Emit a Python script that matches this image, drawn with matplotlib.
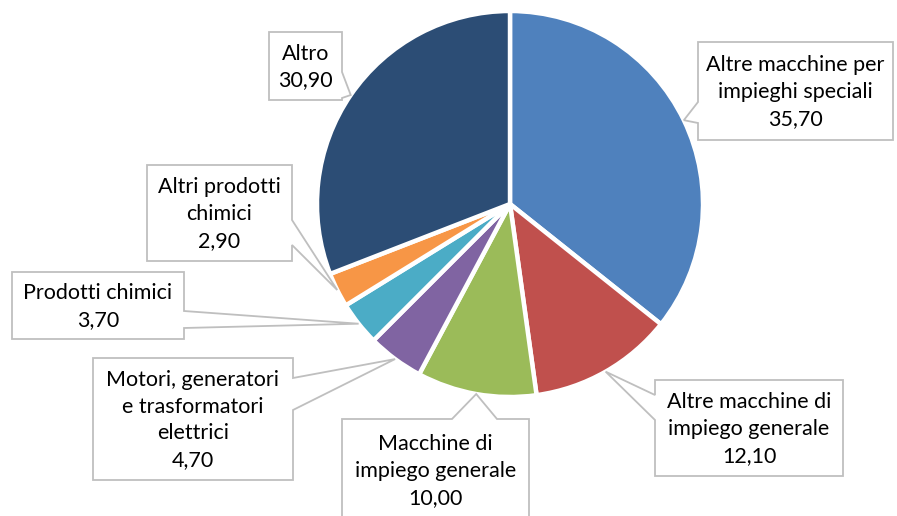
import matplotlib
matplotlib.use("Agg")
import matplotlib.pyplot as plt
from matplotlib.patches import Polygon
import numpy as np

# ---- data ----
categories = ["Altre macchine per\nimpieghi speciali",
              "Altre macchine di\nimpiego generale",
              "Macchine di\nimpiego generale",
              "Motori, generatori\ne trasformatori\nelettrici",
              "Prodotti chimici",
              "Altri prodotti\nchimici",
              "Altro"]
values = [35.70, 12.10, 10.00, 4.70, 3.70, 2.90, 30.90]
value_labels = ["35,70", "12,10", "10,00", "4,70", "3,70", "2,90", "30,90"]
colors = ["#4F81BD", "#C0504D", "#9BBB59", "#8064A2", "#4BACC6", "#F79646", "#2C4D75"]

# ---- layout (pixel coordinates, y downward) ----
W, H = 897, 516
cx, cy, R = 510, 204, 193
# box: (left, top, right, bottom), tail side, tail base (a1, a2), text center
boxes = [
    ((698, 42, 893, 140), "left", (102, 123), (795.5, 92)),
    ((655, 380, 843, 476), "left", (395, 420), (749, 429)),
    ((342, 419, 529, 530), "top", (452, 497), (435.5, 471)),
    ((93, 358, 293, 480), "right", (378, 410), (193, 420)),
    ((12, 272, 184, 339), "right", (311, 328), (98, 306.5)),
    ((147, 165, 292, 261), "right", (220, 245), (219.5, 214)),
    ((269, 32, 342, 100), "right", (72, 98), (305.5, 67)),
]

fig = plt.figure(figsize=(W / 100, H / 100), dpi=100)
ax = fig.add_axes([0, 0, 1, 1])

explode = [0.015, 0, 0, 0, 0, 0, 0]
wedges, _ = ax.pie(values, colors=colors, startangle=-90, counterclock=True,
                   center=(cx, cy), radius=R, explode=explode,
                   wedgeprops=dict(edgecolor="white", linewidth=3.2))
ax.set_xlim(0, W)
ax.set_ylim(H, 0)
ax.set_aspect("equal")
ax.axis("off")

total = sum(values)
cum = 0.0
for i, v in enumerate(values):
    mid = np.deg2rad(-90 + 360 * (cum + v / 2) / total)
    cum += v
    tip = (cx + R * np.cos(mid), cy + R * np.sin(mid))
    (l, t, r, b), side, (a1, a2), (tx, ty) = boxes[i]
    if side == "top":
        verts = [(l, t), (a1, t), tip, (a2, t), (r, t), (r, b), (l, b)]
    elif side == "right":
        verts = [(l, t), (r, t), (r, a1), tip, (r, a2), (r, b), (l, b)]
    elif side == "bottom":
        verts = [(l, t), (r, t), (r, b), (a2, b), tip, (a1, b), (l, b)]
    else:
        verts = [(l, t), (r, t), (r, b), (l, b), (l, a2), tip, (l, a1)]
    ax.add_patch(Polygon(verts, closed=True, facecolor="white",
                         edgecolor="#BFBFBF", linewidth=1.3, zorder=5))
    ax.text(tx, ty, categories[i] + "\n" + value_labels[i], ha="center", va="center",
            fontsize=15.5, family="Lato", color="#000000", linespacing=1.42, zorder=6)

fig.savefig("out.png", dpi=100)
